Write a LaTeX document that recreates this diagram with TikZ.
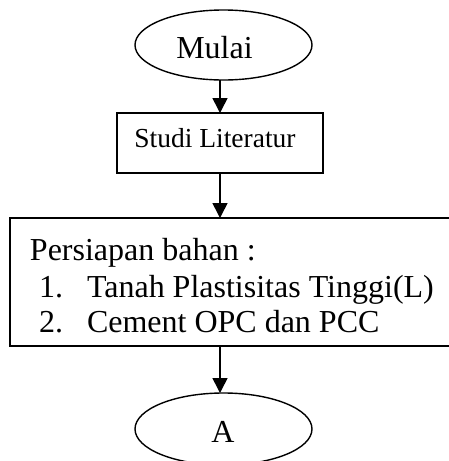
\documentclass[tikz,border=0pt]{standalone}
\usepackage{fontspec}
\setmainfont{Liberation Serif}
\usetikzlibrary{shapes.geometric,arrows.meta}
\begin{document}
\begin{tikzpicture}[x=1pt,y=-1pt,
  every node/.style={inner sep=0pt,outer sep=0pt},
  shapeline/.style={draw=black,line width=1.4pt},
  term/.style={shapeline,ellipse,minimum width=177pt,minimum height=70pt},
  procbox/.style={shapeline,rectangle},
  bigtxt/.style={font=\fontsize{32}{36}\selectfont},
  smalltxt/.style={font=\fontsize{27.5}{32}\selectfont},
  arr/.style={draw=black,line width=1.6pt,-{Triangle[length=15pt,width=15pt]}}]
\useasboundingbox (0,0) rectangle (449,461);
% shapes
\node[term] (mulai) at (223.5,45) {};
\node[procbox,minimum width=206pt,minimum height=60pt] (studi) at (220,143) {};
\node[procbox,minimum width=444pt,minimum height=128pt] (bahan) at (232,282) {};
\node[term,minimum height=72pt] (A) at (223.5,429) {};
% texts
\node[bigtxt,anchor=base] (tmulai) at (214.5,58) {Mulai};
\node[smalltxt,anchor=base] (tstudi) at (215,147) {Studi Literatur};
\node[bigtxt,anchor=base west] (tpersiapan) at (30,260) {Persiapan bahan :};
\node[bigtxt,anchor=base west] (tn1) at (39,297) {1.};
\node[bigtxt,anchor=base west] (ti1) at (87,297) {Tanah Plastisitas Tinggi(L)};
\node[bigtxt,anchor=base west] (tn2) at (39,332) {2.};
\node[bigtxt,anchor=base west] (ti2) at (87,332) {Cement OPC dan PCC};
\node[bigtxt,anchor=base] (tA) at (223,442) {A};
% connectors
\draw[arr] (mulai.south -| studi.north) -- (studi.north);
\draw[arr] (studi.south) -- (studi.south |- bahan.north);
\draw[arr] (bahan.south -| studi.south) -- (A.north -| studi.south);
\end{tikzpicture}
\end{document}
